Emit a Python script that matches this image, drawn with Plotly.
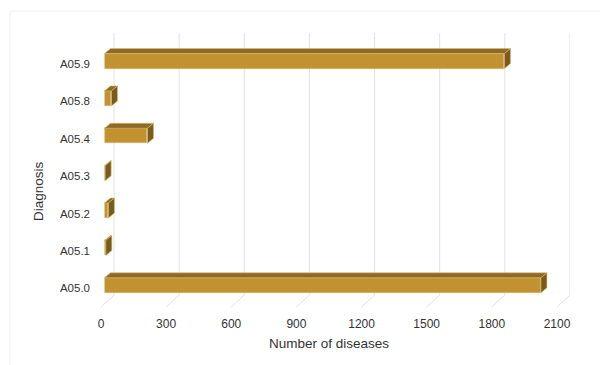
import plotly.graph_objects as go

# ---- data ----
categories = ["A05.0", "A05.1", "A05.2", "A05.3", "A05.4", "A05.8", "A05.9"]
values = [2010, 6, 18, 3, 198, 32, 1842]
x_ticks = [0, 300, 600, 900, 1200, 1500, 1800, 2100]

# ---- layout geometry (pixels, page coords minus the 8px body margin) ----
OFF = 8
W, H = 608 - OFF, 365 - OFF
ML = 101 - OFF
MT = 33 - OFF
plot_right = 570 - OFF
plot_bottom = 307 - OFF
MR = W - plot_right
MB = H - plot_bottom
plot_w = plot_right - ML
plot_h = plot_bottom - MT
X_MAX = 2160
Y_MIN, Y_MAX = -0.5, 6.83
ux = plot_w / X_MAX            # px per value unit
uy = plot_h / (Y_MAX - Y_MIN)  # px per category unit

# 3D depth for the grid (back wall) and bars
GDX, GDY = 13, 12
BOX, BOY = 3.5, 3      # bar front face offset into depth
BDX, BDY = 6, 5        # bar depth
BAR_H = 15

gdx = GDX / ux
gdy_paper = GDY / plot_h
box, boy = BOX / ux, BOY / uy
bdx, bdy = BDX / ux, BDY / uy
bh = BAR_H / uy

ypos = list(range(len(categories)))

FRONT = "#C1922F"
TOP = "#8E6B25"
SIDE = "#7A5A1D"
EDGE = "#D9B96E"

fig = go.Figure()

# front faces
fig.add_trace(go.Bar(
    y=[y + boy for y in ypos], x=values, base=box, orientation="h",
    width=bh, marker=dict(color=FRONT, line=dict(color=EDGE, width=0.6)),
    hoverinfo="skip", showlegend=False,
))

# top & right faces
top_x, top_y, side_x, side_y = [], [], [], []
for y, v in zip(ypos, values):
    x0 = box
    x1 = box + v
    yt = y + boy + bh / 2
    yb = y + boy - bh / 2
    top_x += [x0, x1, x1 + bdx, x0 + bdx, x0, None]
    top_y += [yt, yt, yt + bdy, yt + bdy, yt, None]
    side_x += [x1, x1, x1 + bdx, x1 + bdx, x1, None]
    side_y += [yb, yt, yt + bdy, yb + bdy, yb, None]

fig.add_trace(go.Scatter(x=top_x, y=top_y, mode="lines", fill="toself",
                         fillcolor=TOP, line=dict(color=EDGE, width=0.6),
                         hoverinfo="skip", showlegend=False))
fig.add_trace(go.Scatter(x=side_x, y=side_y, mode="lines", fill="toself",
                         fillcolor=SIDE, line=dict(color=EDGE, width=0.6),
                         hoverinfo="skip", showlegend=False))

shapes = []
for t in x_ticks:
    # back wall grid line
    shapes.append(dict(type="line", xref="x", yref="paper",
                       x0=t + gdx, x1=t + gdx, y0=gdy_paper, y1=1,
                       line=dict(color="#e2e2e2", width=1), layer="below"))
    # floor diagonal
    shapes.append(dict(type="line", xref="x", yref="paper",
                       x0=t, x1=t + gdx, y0=0, y1=gdy_paper,
                       line=dict(color="#e2e2e2", width=1), layer="below"))

# outer light border (page coords 10, 11 -> off page)
bx0 = 10 - OFF
by0 = 11 - OFF
shapes.append(dict(type="rect", xref="paper", yref="paper",
                   x0=(bx0 - ML) / plot_w, x1=(W + 20 - ML) / plot_w,
                   y0=-(H + 20 - plot_bottom) / plot_h,
                   y1=(plot_bottom - by0) / plot_h,
                   line=dict(color="#efefef", width=1), layer="below"))

FAM = "Arial, Liberation Sans, sans-serif"

fig.update_layout(
    width=W, height=H,
    margin=dict(l=ML, r=MR, t=MT, b=MB),
    paper_bgcolor="white", plot_bgcolor="rgba(0,0,0,0)",
    font=dict(family=FAM, size=11.5, color="#333333"),
    shapes=shapes,
    xaxis=dict(range=[0, X_MAX], tickvals=x_ticks, ticktext=[str(t) for t in x_ticks],
               showgrid=False, zeroline=False, showline=False, ticks="",
               tickfont=dict(size=12), ticklabelstandoff=8, fixedrange=True),
    yaxis=dict(range=[Y_MIN, Y_MAX], tickvals=ypos, ticktext=categories,
               showgrid=False, zeroline=False, showline=False, ticks="",
               tickfont=dict(size=11.5), ticklabelstandoff=10, fixedrange=True),
    annotations=[
        dict(text="Number of diseases", xref="x", yref="paper",
             x=1050, y=0, yshift=-(343 - 307), xanchor="center", yanchor="middle",
             showarrow=False, font=dict(size=13.5, color="#333333")),
        dict(text="Diagnosis", xref="paper", yref="paper",
             x=(38 - OFF - ML) / plot_w, y=(plot_bottom - (191 - OFF)) / plot_h,
             xanchor="center", yanchor="middle",
             textangle=-90, showarrow=False,
             font=dict(size=13.5, color="#333333")),
    ],
    bargap=0,
)

fig.write_html("out.html")
